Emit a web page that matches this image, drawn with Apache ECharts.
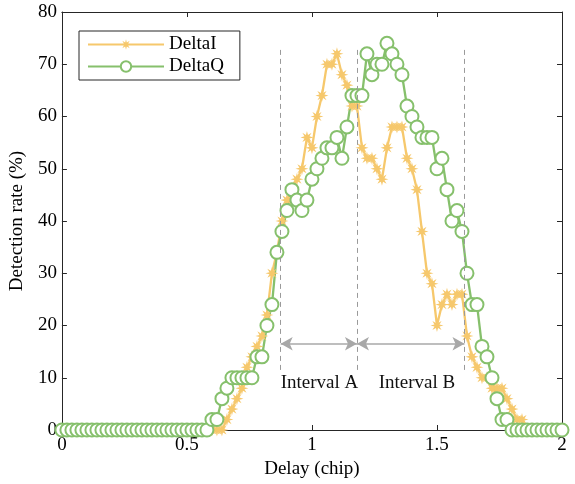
<!DOCTYPE html>
<html>
<head>
<meta charset="utf-8">
<script src="https://cdn.jsdelivr.net/npm/echarts@6/dist/echarts.min.js"></script>
<style>
  html, body { margin: 0; padding: 0; background: #ffffff; }
  #chart { width: 575px; height: 484px; }
</style>
</head>
<body>
<div id="chart"></div>
<script>
// Delay offsets (chip) at which detection was measured
const delay = [
  0.00, 0.02, 0.04, 0.06, 0.08, 0.10, 0.12, 0.14, 0.16, 0.18,
  0.20, 0.22, 0.24, 0.26, 0.28, 0.30, 0.32, 0.34, 0.36, 0.38,
  0.40, 0.42, 0.44, 0.46, 0.48, 0.50, 0.52, 0.54, 0.56, 0.58,
  0.60, 0.62, 0.64, 0.66, 0.68, 0.70, 0.72, 0.74, 0.76, 0.78,
  0.80, 0.82, 0.84, 0.86, 0.88, 0.90, 0.92, 0.94, 0.96, 0.98,
  1.00, 1.02, 1.04, 1.06, 1.08, 1.10, 1.12, 1.14, 1.16, 1.18,
  1.20, 1.22, 1.24, 1.26, 1.28, 1.30, 1.32, 1.34, 1.36, 1.38,
  1.40, 1.42, 1.44, 1.46, 1.48, 1.50, 1.52, 1.54, 1.56, 1.58,
  1.60, 1.62, 1.64, 1.66, 1.68, 1.70, 1.72, 1.74, 1.76, 1.78,
  1.80, 1.82, 1.84, 1.86, 1.88, 1.90, 1.92, 1.94, 1.96, 1.98,
  2.00
];

// Detection rate (%) of the in-phase delta statistic
const deltaI = [
  0, 0, 0, 0, 0, 0, 0, 0, 0, 0,
  0, 0, 0, 0, 0, 0, 0, 0, 0, 0,
  0, 0, 0, 0, 0, 0, 0, 0, 0, 0,
  0, 0, 0, 2, 4, 6, 8, 12, 14, 16,
  18, 22, 30, 34, 40, 44, 46, 48, 50, 56,
  54, 60, 64, 70, 70, 72, 68, 66, 62, 62,
  54, 52, 52, 50, 48, 54, 58, 58, 58, 52,
  50, 46, 38, 30, 28, 20, 24, 26, 24, 26,
  26, 18, 14, 12, 10, 10, 8, 8, 8, 6,
  4, 2, 2, 0, 0, 0, 0, 0, 0, 0,
  0
];

// Detection rate (%) of the quadrature delta statistic
const deltaQ = [
  0, 0, 0, 0, 0, 0, 0, 0, 0, 0,
  0, 0, 0, 0, 0, 0, 0, 0, 0, 0,
  0, 0, 0, 0, 0, 0, 0, 0, 0, 0,
  2, 2, 6, 8, 10, 10, 10, 10, 10, 14,
  14, 20, 24, 34, 38, 42, 46, 44, 42, 44,
  48, 50, 52, 54, 54, 56, 52, 58, 64, 64,
  64, 72, 68, 70, 70, 74, 72, 70, 68, 62,
  60, 58, 56, 56, 56, 50, 52, 46, 40, 42,
  38, 30, 24, 24, 16, 14, 10, 6, 2, 2,
  0, 0, 0, 0, 0, 0, 0, 0, 0, 0,
  0
];

// Interval boundaries (chip) and their captions
const intervalEdges = [0.875, 1.18, 1.61];
const intervalNames = ['Interval A', 'Interval B'];
const seriesNames = ['DeltaI', 'DeltaQ'];

const FONT = '"Liberation Serif", "Times New Roman", serif';
const AXIS = '#262626';
const YELLOW = '#F6C86C';
const GREEN = '#86C06C';
const GUIDE = '#A8A8A8';

// Eight-pointed burst used as the DeltaI marker
function burstPath() {
  const pts = [];
  for (let k = 0; k < 16; k++) {
    const a = Math.PI / 2 + k * Math.PI / 8;
    const r = k % 2 === 0 ? 10 : 4.2;
    pts.push((10 + r * Math.cos(a)).toFixed(2) + ' ' + (10 - r * Math.sin(a)).toFixed(2));
  }
  return 'path://M' + pts.join(' L') + ' Z';
}

const chart = echarts.init(document.getElementById('chart'), null, { renderer: 'canvas' });

const frameAxisBase = {
  type: 'value',
  axisLine: { show: true, onZero: false, lineStyle: { color: AXIS, width: 1 } },
  axisTick: { show: true, inside: true, length: 5, lineStyle: { color: AXIS, width: 1 } },
  splitLine: { show: false }
};

const guideLines = intervalEdges.map(x => [
  { coord: [x, 11.5] },
  { coord: [x, 73.5] }
]);

const arrowLines = [
  [{ coord: [intervalEdges[0], 16.5] }, { coord: [intervalEdges[1], 16.5] }],
  [{ coord: [intervalEdges[1], 16.5] }, { coord: [intervalEdges[2], 16.5] }]
];

chart.setOption({
  animation: false,
  backgroundColor: '#ffffff',
  grid: { left: 61, right: 13, top: 12, bottom: 54, containLabel: false },
  legend: {
    data: seriesNames,
    orient: 'vertical',
    left: 79,
    top: 31,
    itemWidth: 76,
    itemHeight: 13,
    itemGap: 3,
    padding: [4, 16, 4, 8],
    borderColor: AXIS,
    borderWidth: 1,
    backgroundColor: '#ffffff',
    textStyle: { fontFamily: FONT, fontSize: 19, color: '#000' }
  },
  xAxis: [
    Object.assign({}, frameAxisBase, {
      position: 'bottom',
      min: 0, max: 2, interval: 0.5,
      name: 'Delay (chip)',
      nameLocation: 'middle',
      nameGap: 29,
      nameTextStyle: { fontFamily: FONT, fontSize: 19, color: '#000' },
      axisLabel: { fontFamily: FONT, fontSize: 19, color: '#000', margin: 6 }
    }),
    Object.assign({}, frameAxisBase, {
      position: 'top',
      min: 0, max: 2, interval: 0.5,
      axisLabel: { show: false }
    })
  ],
  yAxis: [
    Object.assign({}, frameAxisBase, {
      position: 'left',
      min: 0, max: 80, interval: 10,
      name: 'Detection rate (%)',
      nameLocation: 'middle',
      nameGap: 30,
      nameTextStyle: { fontFamily: FONT, fontSize: 19, color: '#000' },
      axisLabel: { fontFamily: FONT, fontSize: 19, color: '#000', margin: 5 }
    }),
    Object.assign({}, frameAxisBase, {
      position: 'right',
      min: 0, max: 80, interval: 10,
      axisLabel: { show: false }
    })
  ],
  series: [
    {
      name: seriesNames[0],
      type: 'line',
      data: delay.map((d, i) => [d, deltaI[i]]),
      clip: false,
      symbol: burstPath(),
      symbolSize: 13,
      showAllSymbol: true,
      lineStyle: { color: YELLOW, width: 2.3 },
      itemStyle: { color: YELLOW },
      markLine: {
        silent: true,
        symbol: ['none', 'none'],
        label: { show: false },
        lineStyle: { color: '#9A9A9A', type: [5, 4], width: 1 },
        data: guideLines
      }
    },
    {
      name: seriesNames[1],
      type: 'line',
      data: delay.map((d, i) => [d, deltaQ[i]]),
      clip: false,
      symbol: 'emptyCircle',
      symbolSize: 13,
      showAllSymbol: true,
      lineStyle: { color: GREEN, width: 2.3 },
      itemStyle: { color: GREEN, borderColor: GREEN, borderWidth: 2.3 },
      markLine: {
        silent: true,
        symbol: ['arrow', 'arrow'],
        symbolSize: [10, 12],
        label: { show: false },
        lineStyle: { color: GUIDE, type: 'solid', width: 1.5 },
        itemStyle: { color: GUIDE },
        data: arrowLines
      }
    }
  ]
});

// Interval captions below the arrows
function placeCaptions() {
  const anchors = [[1.03, 9], [1.42, 9]];
  const elements = intervalNames.map((name, i) => {
    const p = chart.convertToPixel({ xAxisIndex: 0, yAxisIndex: 0 }, anchors[i]);
    return {
      type: 'text',
      x: p[0],
      y: p[1],
      style: {
        text: name,
        fontFamily: FONT,
        fontSize: 19,
        fill: '#111',
        align: 'center',
        verticalAlign: 'middle'
      },
      z: 10
    };
  });
  chart.setOption({ graphic: elements });
}
placeCaptions();
</script>
</body>
</html>
